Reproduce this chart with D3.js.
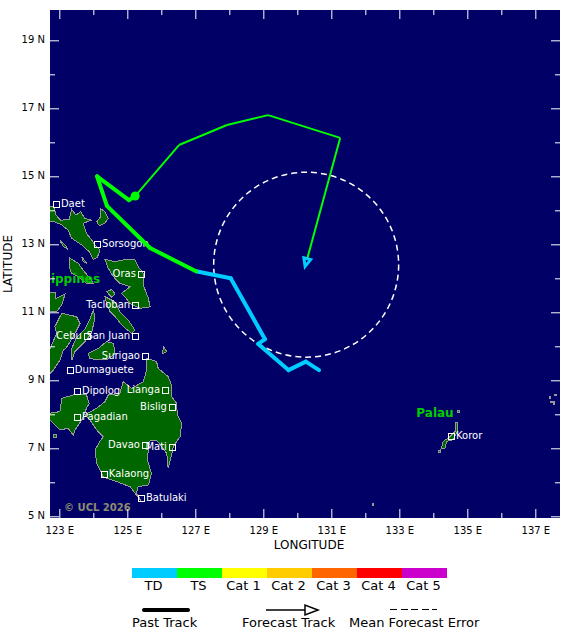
<!DOCTYPE html>
<html>
<head>
<meta charset="utf-8">
<script src="https://cdn.jsdelivr.net/npm/d3@7"></script>
<style>
body { margin: 0; background: #fff; }
text { font-family: "DejaVu Sans", sans-serif; }
.tick-label { font-size: 10px; fill: #000; }
.axis-title { font-size: 12px; fill: #000; }
.legend-text { font-size: 13px; fill: #000; }
.city { font-size: 10px; fill: #fff; }
.country { font-size: 12px; font-weight: bold; fill: #00cc00; }
</style>
</head>
<body>
<svg id="chart" width="580" height="638"></svg>
<script>
// category scale
var categories = ['TD', 'TS', 'Cat 1', 'Cat 2', 'Cat 3', 'Cat 4', 'Cat 5'];
var catColors = ['#00ccff', '#00ff00', '#ffff00', '#ffcc00', '#ff6600', '#ff0000', '#cc00cc'];

// past track, oldest first
var pastLon = [130.64, 130.25, 129.74, 128.85, 129.05, 128.04, 127.02, 125.67, 124.40, 124.11, 125.05, 125.23];
var pastLat = [9.30, 9.55, 9.30, 10.07, 10.21, 12.00, 12.21, 12.89, 14.13, 15.00, 14.30, 14.42];
var pastCat = ['TD', 'TD', 'TD', 'TD', 'TD', 'TD', 'TS', 'TS', 'TS', 'TS', 'TS', 'TS'];

// forecast track
var foreLon = [125.23, 126.52, 127.93, 129.14, 131.26, 130.23];
var foreLat = [14.42, 15.92, 16.51, 16.80, 16.13, 12.35];
var foreCat = ['TS', 'TS', 'TS', 'TS', 'TS', 'TD'];

// mean forecast error circle
var errorLon = [130.26];
var errorLat = [12.40];
var errorRadius = [2.72];

// cities
var cityNames = ['Daet', 'Sorsogon', 'Oras', 'Tacloban', 'Cebu', 'San Juan', 'Surigao', 'Dumaguete', 'Dipolog', 'Lianga', 'Bislig', 'Pagadian', 'Davao', 'Mati', 'Kalaong', 'Batulaki', 'Koror'];
var cityLon = [122.90, 124.11, 125.40, 125.23, 123.81, 125.23, 125.52, 123.31, 123.52, 126.11, 126.31, 123.52, 125.52, 126.31, 124.31, 125.40, 134.52];
var cityLat = [14.19, 13.01, 12.13, 11.21, 10.30, 10.30, 9.71, 9.30, 8.69, 8.72, 8.22, 7.92, 7.10, 7.04, 6.24, 5.54, 7.36];
var citySide = ['r', 'r', 'l', 'l', 'l', 'l', 'l', 'r', 'r', 'l', 'l', 'r', 'l', 'l', 'r', 'r', 'r'];

// land outlines [lon, lat]
var bicol = [[122.72,14.13],[122.84,14.11],[122.90,13.86],[123.04,13.71],[123.29,13.73],[123.36,14.03],[123.49,13.86],[123.63,13.96],[123.75,13.76],[123.95,13.71],[123.70,13.62],[123.80,13.32],[123.95,13.13],[124.05,12.98],[124.20,12.83],[124.12,12.62],[124.00,12.56],[123.88,12.78],[123.66,12.98],[123.36,13.18],[123.26,13.42],[123.07,13.57],[122.87,13.66],[122.72,13.66]];
var catanduanes = [[124.20,14.06],[124.34,13.96],[124.44,13.76],[124.34,13.62],[124.18,13.54],[124.10,13.66],[124.21,13.81]];
var burias = [[123.02,13.11],[123.17,12.98],[123.26,12.85],[123.12,12.93]];
var masbate = [[123.31,12.59],[123.56,12.44],[123.70,12.24],[123.90,12.00],[124.00,11.85],[123.80,11.85],[123.56,12.05],[123.36,12.15],[123.29,12.34]];
var ticao = [[123.66,12.64],[123.80,12.44],[123.70,12.49]];
var samar = [[124.34,12.56],[124.64,12.49],[124.98,12.56],[125.22,12.54],[125.32,12.34],[125.47,12.15],[125.49,11.75],[125.62,11.41],[125.67,11.16],[125.37,11.12],[125.08,11.26],[124.93,11.46],[124.83,11.56],[125.08,11.75],[124.78,11.85],[124.59,12.05],[124.44,12.29]];
var leyte = [[124.34,11.46],[124.64,11.31],[124.78,11.02],[125.03,10.77],[125.22,10.48],[125.13,10.38],[124.88,10.58],[124.64,10.87],[124.49,11.02],[124.39,11.26]];
var biliran = [[124.39,11.61],[124.54,11.67],[124.64,11.54],[124.54,11.44]];
var panay = [[122.72,11.58],[122.90,11.58],[122.90,11.41],[123.17,11.54],[123.07,11.21],[122.92,11.02],[122.72,11.02]];
var negros = [[123.07,10.97],[123.51,10.87],[123.61,10.67],[123.41,10.28],[123.20,9.95],[123.12,9.89],[123.02,9.60],[122.82,9.30],[122.72,9.20],[122.72,9.90],[122.92,10.38],[122.87,10.58]];
var cebu = [[124.00,11.07],[124.05,10.87],[123.95,10.38],[123.72,10.10],[123.46,9.85],[123.37,9.60],[123.35,9.90],[123.50,10.25],[123.75,10.50],[123.90,10.80]];
var bohol = [[123.85,9.79],[124.15,9.94],[124.39,10.14],[124.59,10.09],[124.64,9.79],[124.39,9.60],[124.10,9.60],[123.90,9.65]];
var mindanao = [[125.57,9.65],[125.86,9.55],[125.91,9.35],[126.20,9.11],[126.30,8.86],[126.30,8.52],[126.45,8.32],[126.47,7.98],[126.60,7.73],[126.55,7.34],[126.35,7.05],[126.30,6.80],[126.20,6.41],[126.16,6.85],[126.01,7.05],[125.86,7.24],[125.67,7.24],[125.62,7.00],[125.59,6.66],[125.71,6.26],[125.62,5.92],[125.32,5.87],[125.27,5.68],[125.42,5.43],[125.08,5.87],[124.69,6.02],[124.29,6.16],[124.10,6.56],[124.05,6.95],[124.19,7.20],[124.29,7.34],[124.10,7.54],[123.90,7.83],[123.75,7.98],[124.10,8.18],[124.34,8.37],[124.44,8.57],[124.78,8.62],[124.88,8.96],[125.13,8.76],[125.47,8.96],[125.57,9.30]];
var zamboanga = [[123.07,8.47],[123.41,8.57],[123.80,8.57],[123.88,8.32],[123.80,8.18],[123.66,7.83],[123.46,7.54],[123.41,7.39],[123.26,7.59],[123.02,7.54],[122.72,7.83],[122.72,8.03],[123.02,8.08]];
var siargao = [[126.06,9.99],[126.16,9.84],[126.04,9.79]];
var basilan = [[122.84,7.42],[122.92,7.42],[122.92,7.32],[122.84,7.32]];
var palau = [[134.64,7.76],[134.70,7.76],[134.70,7.49],[134.59,7.26],[134.39,7.20],[134.34,7.00],[134.23,6.98],[134.29,7.20],[134.49,7.34],[134.64,7.49]];
var kayangel = [[134.71,8.10],[134.78,8.10],[134.78,8.06],[134.71,8.06]];
var angaur = [[134.14,6.93],[134.20,6.93],[134.20,6.87],[134.14,6.87]];
var speck1 = [[137.41,8.51],[137.45,8.51],[137.45,8.47],[137.41,8.47]];
var speck2 = [[137.57,8.58],[137.62,8.58],[137.62,8.55],[137.57,8.55]];
var speck3 = [[137.45,8.39],[137.55,8.39],[137.57,8.30],[137.53,8.30],[137.52,8.36],[137.45,8.36]];
var speck4 = [[132.20,5.37],[132.25,5.37],[132.25,5.33],[132.20,5.33]];
var landShapes = [bicol, catanduanes, burias, masbate, ticao, samar, leyte, biliran, panay, negros, cebu, bohol, mindanao, zamboanga, siargao, basilan, palau, kayangel, angaur, speck1, speck2, speck3, speck4];

// axis ticks
var lonTicks = d3.range(123, 138);
var latTicks = d3.range(5, 20);

var svg = d3.select('#chart');

var left = 50, right = 560, top_ = 10, bottom = 518;

var scaleX = d3.scaleLinear().domain([122.726, 137.726]).range([left, right]);
var scaleY = d3.scaleLinear().domain([19.892, 4.95]).range([top_, bottom]);
var pxPerDeg = scaleX(124) - scaleX(123);

svg.append('clipPath').attr('id', 'plot-clip')
    .append('rect')
    .attr('x', left).attr('y', top_)
    .attr('width', right - left).attr('height', bottom - top_);

// sea
svg.append('rect')
    .attr('x', left).attr('y', top_)
    .attr('width', right - left).attr('height', bottom - top_)
    .attr('fill', '#000066');

var plot = svg.append('g').attr('clip-path', 'url(#plot-clip)');

// land
var landLine = d3.line()
    .x(function(d){ return scaleX(d[0]); })
    .y(function(d){ return scaleY(d[1]); })
    .curve(d3.curveLinearClosed);

plot.selectAll('path.land')
    .data(landShapes)
    .enter().append('path')
    .attr('class', 'land')
    .attr('d', landLine)
    .attr('fill', '#006600')
    .attr('stroke', '#999999')
    .attr('stroke-width', 1)
    .attr('shape-rendering', 'crispEdges');

// country names
plot.append('text').attr('class', 'country')
    .attr('x', scaleX(124.2)).attr('y', scaleY(11.86)).attr('text-anchor', 'end')
    .text('Philippines');
plot.append('text').attr('class', 'country')
    .attr('x', scaleX(133.5)).attr('y', scaleY(7.92))
    .text('Palau');

// cities
cityNames.forEach(function(name, i){
    var cx = scaleX(cityLon[i]), cy = scaleY(cityLat[i]);
    plot.append('rect')
        .attr('x', Math.round(cx) - 3).attr('y', Math.round(cy) - 3)
        .attr('width', 6).attr('height', 6)
        .attr('fill', 'none').attr('stroke', '#fff')
        .attr('shape-rendering', 'crispEdges');
    plot.append('text').attr('class', 'city')
        .attr('x', citySide[i] == 'r' ? cx + 5 : cx - 5)
        .attr('y', cy + 3)
        .attr('text-anchor', citySide[i] == 'r' ? 'start' : 'end')
        .text(name);
});

plot.append('text')
    .attr('x', scaleX(123.14)).attr('y', scaleY(5.16))
    .attr('font-size', 10).attr('font-weight', 'bold').attr('fill', '#8c8c70')
    .text('\u00A9 UCL 2026');

// mean forecast error
plot.append('circle')
    .attr('cx', scaleX(errorLon[0])).attr('cy', scaleY(errorLat[0]))
    .attr('r', errorRadius[0] * pxPerDeg)
    .attr('fill', 'none').attr('stroke', '#fff')
    .attr('stroke-width', 1.5).attr('stroke-dasharray', '6,4');

function catColor(c){
    return catColors[categories.indexOf(c)];
}

// past track segments
pastLon.forEach(function(lon, i){
    if(i == 0) return;
    plot.append('line')
        .attr('x1', scaleX(pastLon[i-1])).attr('y1', scaleY(pastLat[i-1]))
        .attr('x2', scaleX(lon)).attr('y2', scaleY(pastLat[i]))
        .attr('stroke', catColor(pastCat[i-1]))
        .attr('stroke-width', 4).attr('stroke-linecap', 'round');
});

// forecast track segments
foreLon.forEach(function(lon, i){
    if(i == 0) return;
    plot.append('line')
        .attr('x1', scaleX(foreLon[i-1])).attr('y1', scaleY(foreLat[i-1]))
        .attr('x2', scaleX(lon)).attr('y2', scaleY(foreLat[i]))
        .attr('stroke', catColor(foreCat[i-1]))
        .attr('stroke-width', 2);
});

// current position
plot.append('circle')
    .attr('cx', scaleX(foreLon[0])).attr('cy', scaleY(foreLat[0]))
    .attr('r', 4.5).attr('fill', catColor(foreCat[0]));

// forecast arrow head, pointing along the last segment
var n = foreLon.length - 1;
var tipX = scaleX(foreLon[n]), tipY = scaleY(foreLat[n]);
var ang = Math.atan2(tipY - scaleY(foreLat[n-1]), tipX - scaleX(foreLon[n-1]));
function arrowHead(x, y, a, len, half){
    var bx = x - len * Math.cos(a), by = y - len * Math.sin(a);
    var nx = -Math.sin(a) * half, ny = Math.cos(a) * half;
    return [[x, y], [bx + nx, by + ny], [bx - nx, by - ny]];
}
plot.append('polygon')
    .attr('points', arrowHead(tipX, tipY, ang, 8, 3.5).join(' '))
    .attr('fill', '#000066')
    .attr('stroke', catColor(foreCat[n]))
    .attr('stroke-width', 3);

// axes, white ticks pointing into the plot
function tweakTicks(g, attr, major, minor, sign, isMajor){
    g.select('.domain').remove();
    g.selectAll('.tick line')
        .attr('stroke', '#fff')
        .attr(attr, function(d){ return sign * (isMajor(d) ? major : minor); });
}
function isOdd(d){ return d % 2 == 1; }

var xBottom = svg.append('g').attr('transform', 'translate(0,' + bottom + ')')
    .call(d3.axisBottom(scaleX).tickValues(lonTicks).tickSize(0).tickPadding(9)
        .tickFormat(function(d){ return isOdd(d) ? d + ' E' : ''; }));
tweakTicks(xBottom, 'y2', 9, 5, -1, isOdd);

var xTop = svg.append('g').attr('transform', 'translate(0,' + top_ + ')')
    .call(d3.axisTop(scaleX).tickValues(lonTicks).tickSize(0).tickFormat(''));
tweakTicks(xTop, 'y2', 9, 5, 1, isOdd);

var yLeft = svg.append('g').attr('transform', 'translate(' + left + ',0)')
    .call(d3.axisLeft(scaleY).tickValues(latTicks).tickSize(0).tickPadding(5)
        .tickFormat(function(d){ return isOdd(d) ? d + ' N' : ''; }));
tweakTicks(yLeft, 'x2', 9, 5, 1, isOdd);
yLeft.selectAll('.tick text').attr('dy', '0.22em');

var yRight = svg.append('g').attr('transform', 'translate(' + right + ',0)')
    .call(d3.axisRight(scaleY).tickValues(latTicks).tickSize(0).tickFormat(''));
tweakTicks(yRight, 'x2', 9, 5, -1, isOdd);

svg.selectAll('.tick text')
    .attr('class', 'tick-label')
    .attr('font-family', null).attr('font-size', null);

// axis titles
svg.append('text').attr('class', 'axis-title')
    .attr('x', 309).attr('y', 549).attr('text-anchor', 'middle')
    .text('LONGITUDE');
svg.append('text').attr('class', 'axis-title')
    .attr('transform', 'translate(12,264) rotate(-90)').attr('text-anchor', 'middle')
    .text('LATITUDE');

// legend: category colour bar
var legendBand = d3.scaleBand().domain(categories).range([132, 447]);
svg.selectAll('rect.cat')
    .data(categories)
    .enter().append('rect')
    .attr('class', 'cat')
    .attr('x', function(d){ return legendBand(d); })
    .attr('y', 568)
    .attr('width', legendBand.bandwidth())
    .attr('height', 10)
    .attr('fill', catColor);
svg.selectAll('text.cat-label')
    .data(categories)
    .enter().append('text')
    .attr('class', 'cat-label legend-text')
    .attr('x', function(d){ return legendBand(d) + legendBand.bandwidth() / 2 - 1; })
    .attr('y', 590)
    .attr('text-anchor', 'middle')
    .text(function(d){ return d; });

// legend: line styles
svg.append('line')
    .attr('x1', 144).attr('x2', 188).attr('y1', 610).attr('y2', 610)
    .attr('stroke', '#000').attr('stroke-width', 4).attr('stroke-linecap', 'round');
svg.append('text').attr('class', 'legend-text').attr('x', 132).attr('y', 627).text('Past Track');

svg.append('line')
    .attr('x1', 266).attr('x2', 310).attr('y1', 610).attr('y2', 610)
    .attr('stroke', '#000').attr('stroke-width', 1.5);
svg.append('polygon')
    .attr('points', arrowHead(318, 610, 0, 13, 5).join(' '))
    .attr('fill', '#fff').attr('stroke', '#000').attr('stroke-width', 1.5);
svg.append('text').attr('class', 'legend-text').attr('x', 242).attr('y', 627).text('Forecast Track');

svg.append('line')
    .attr('x1', 390).attr('x2', 437).attr('y1', 609.5).attr('y2', 609.5)
    .attr('stroke', '#000').attr('stroke-dasharray', '7,3.5')
    .attr('shape-rendering', 'crispEdges');
svg.append('text').attr('class', 'legend-text').attr('x', 349).attr('y', 627).text('Mean Forecast Error');
</script>
</body>
</html>
